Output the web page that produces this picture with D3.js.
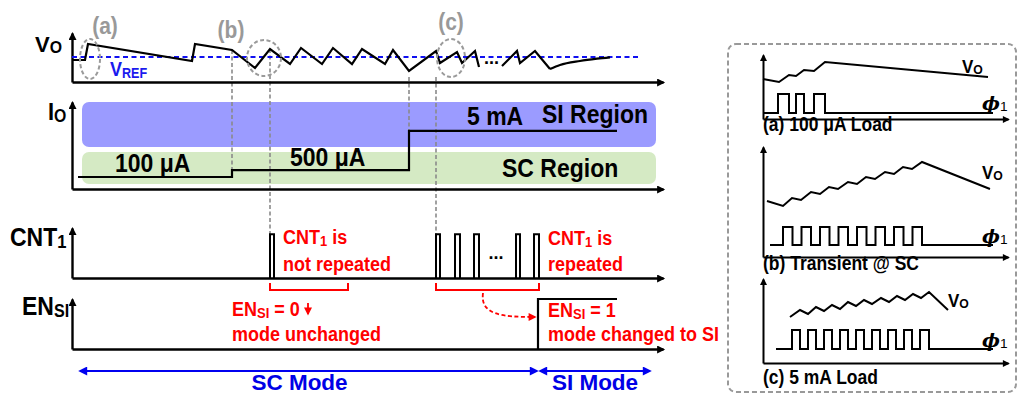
<!DOCTYPE html>
<html>
<head>
<meta charset="utf-8">
<script src="https://cdn.jsdelivr.net/npm/d3@7"></script>
<style>
  body { margin: 0; background: #fff; }
  svg { display: block; }
  text { font-family: "Liberation Sans", Arial, sans-serif; font-weight: bold; }
</style>
</head>
<body>
<svg id="chart" width="1019" height="396"></svg>
<script>
// ---------------- Main timing diagram (time in arbitrary units) ----------------
// Output voltage, relative to VREF
const voSC      = [[0.2,-3],[2.6,-3],[3.2,13],[24,-4],[24.6,13],[32,7],[36.6,-11],[39.6,8],[43.6,-7],[45.8,9],
                   [50,-7],[52.2,9],[56,-7],[58,8],[62.6,-7],[64.2,7],[67.4,-14],[72.8,6],[73.6,-6],[77,5],
                   [78,-6],[80.6,6],[81.4,-10]];
const voSI      = [[86,-9],[89,6],[89.6,-6],[92.6,6],[95.6,-12]];
const voSettle  = [[95.6,-12],[97.6,-8],[101.6,-4],[105,-1.7],[107.6,-0.3]];
const vrefSpan  = [0, 113.6];

// Load current: step times and normalised levels
const ioTime    = [1.2, 32, 67.4, 109];
const ioLevel   = [0.138, 0.218, 0.667, 0.667];
const ioLabels  = ["100 μA", "500 μA", "5 mA"];

// Operating-region bands (normalised current)
const regionNames = ["SI Region", "SC Region"];
const regionLow   = [0.483, 0.057];
const regionHigh  = [1.0, 0.425];
const regionSpan  = [2, 116.8];

// CNT1 pulses
const cntStart  = [39.6, 72.8, 76.6, 80.4, 88.8, 92.4];
const cntEnd    = [40.4, 73.6, 77.6, 81.4, 89.6, 93.4];

// EN_SI signal
const enTime    = [93.2, 109];
const enLevel   = [1, 1];

// Modes along the time axis
const modeNames = ["SC Mode", "SI Mode"];
const modeStart = [1.6, 93.6];
const modeEnd   = [93.0, 115.6];

// Zoom-in markers on VO
const zoomNames = ["(a)", "(b)", "(c)"];
const zoomTime  = [3.6, 38.4, 75.8];
const zoomValue = [-2, -1, -1];

// Vertical guides: time, VO level where they begin
const guideTime  = [32, 39.6, 67.4, 72.8];
const guideStart = [7, 8, -20, -20];

// CNT1 bracket spans
const bracketStart = [39.6, 72.8];
const bracketEnd   = [55.2, 93.4];

// ---------------- Detail panels (time in arbitrary units) ----------------
const aVo       = [[0,40],[3.2,37],[5.2,44],[6.6,43],[8.2,49],[10.2,48],[12.4,57],[45,42]];
const aPhiRise  = [3, 6.6, 10.2];
const aPhiFall  = [5.2, 8.2, 12.4];
const aPhiSpan  = [0, 46];

const bVo       = [[0.8,56],[4,51],[5.8,59],[7.6,57],[9.6,65],[11.4,63],[13.2,70],[15,68],[17,75],[18.8,73],
                   [20.6,80],[22.4,78],[24.4,85],[26.2,83],[28,90],[29.8,88],[31.8,95],[45.4,68]];
const bPhiRise  = [4, 7.7, 11.4, 15.1, 18.8, 22.5, 26.2, 29.9];
const bPhiFall  = [5.9, 9.6, 13.3, 17, 20.7, 24.4, 28.1, 31.8];
const bPhiSpan  = [1.4, 46];

const cVo       = [[5.4,46],[7.4,53],[9,49],[10.6,56],[12.2,52],[13.8,58],[15.4,54],[17,61],[18.6,57],[20.2,63],
                   [21.8,59],[23.6,65],[25.2,61],[26.8,67],[28.4,63],[30,69],[31.6,65],[33.2,71],[37,53]];
const cPhiRise  = [5.8, 9, 12.2, 15.4, 18.6, 21.8, 25, 28.2, 31.4];
const cPhiFall  = [7.4, 10.6, 13.8, 17, 20.2, 23.4, 26.6, 29.8, 33.2];
const cPhiSpan  = [2.6, 46];

// ---------------- Drawing ----------------
const svg  = d3.select("#chart");
const defs = svg.append("defs");
const TEXT_STRETCH = 1.12;   // lettering is a little taller than plain Arial

function addMarker(id, color, w, h) {
  defs.append("marker")
    .attr("id", id).attr("viewBox", "0 0 10 10")
    .attr("refX", 8).attr("refY", 5)
    .attr("markerWidth", w).attr("markerHeight", h)
    .attr("markerUnits", "userSpaceOnUse")
    .attr("orient", "auto-start-reverse")
    .append("path").attr("d", "M0,0L10,5L0,10z").attr("fill", color);
}
addMarker("axArrow", "#000", 10, 8);
addMarker("axArrowSmall", "#000", 9, 7);
addMarker("blueArrow", "#0000f0", 11, 9);
addMarker("redArrow", "#f00", 9, 8);

// Text with optional subscript parts (given as one-element arrays)
function rich(g, x, y, parts, size, opts = {}) {
  const k = opts.stretch !== undefined ? opts.stretch : TEXT_STRETCH;
  const t = g.append("text")
    .attr("transform", `translate(${x},${y}) scale(1,${k})`)
    .attr("font-size", size)
    .attr("fill", opts.fill || "#000")
    .attr("text-anchor", opts.anchor || "start");
  if (opts.family) t.style("font-family", opts.family);
  if (opts.style) t.style("font-style", opts.style);
  let shift = 0;
  parts.forEach(p => {
    const isSub = Array.isArray(p);
    const target = isSub ? (opts.subDy !== undefined ? opts.subDy : size * 0.14) : 0;
    const ts = t.append("tspan").text(isSub ? p[0] : p).attr("dy", target - shift);
    if (isSub) {
      ts.attr("font-size", size * (opts.subScale || 0.72));
      if (opts.subStyle) ts.style("font-style", opts.subStyle).style("font-weight", "normal")
                           .style("font-family", "'Liberation Sans', Arial, sans-serif");
    }
    shift = target;
  });
  return t;
}

// Axes drawn from d3 axes with no ticks; arrowheads on the domain paths
function drawAxes(g, xs, ys, sw, markerId) {
  const gx = g.append("g")
    .attr("transform", `translate(0,${ys.range()[0]})`)
    .call(d3.axisBottom(xs).tickValues([]).tickSizeOuter(0));
  gx.select(".domain").attr("stroke", "#000").attr("stroke-width", sw).attr("marker-end", `url(#${markerId})`);
  const gy = g.append("g")
    .attr("transform", `translate(${xs.range()[0]},0)`)
    .call(d3.axisLeft(ys).tickValues([]).tickSizeOuter(0));
  gy.select(".domain").attr("stroke", "#000").attr("stroke-width", sw).attr("marker-end", `url(#${markerId})`);
}

// Shared time scale for the main diagram
const x = d3.scaleLinear().domain([0, 118.2]).range([72, 663]);
const yVo  = d3.scaleLinear().domain([-25, 24]).range([82, 33]);
const yIo  = d3.scaleLinear().domain([0, 1]).range([189, 102]);
const yCnt = d3.scaleLinear().domain([0, 1.14]).range([278, 228]);
const yEn  = d3.scaleLinear().domain([0, 1]).range([349, 299]);

const main = svg.append("g");
const WAVE = 2.2, AXW = 2.4;

// --- I_O region bands (behind everything)
regionNames.forEach((name, i) => {
  main.append("rect")
    .attr("x", x(regionSpan[0])).attr("width", x(regionSpan[1]) - x(regionSpan[0]))
    .attr("y", yIo(regionHigh[i])).attr("height", yIo(regionLow[i]) - yIo(regionHigh[i]))
    .attr("rx", 7)
    .attr("fill", i === 0 ? "#9b9bff" : "#d5eac4");
});

// --- Gray guides
const guideEnds = [yIo(ioLevel[1]), yCnt(1), yIo(ioLevel[2]), yCnt(1)];
guideTime.forEach((t, i) => {
  main.append("line")
    .attr("x1", x(t)).attr("x2", x(t))
    .attr("y1", yVo(guideStart[i])).attr("y2", guideEnds[i])
    .attr("stroke", "#8a8a8a").attr("stroke-width", 1.6).attr("stroke-dasharray", "4,2.5");
});

// --- VO panel
drawAxes(main, x, yVo, AXW, "axArrow");
main.append("line")
  .attr("x1", x(vrefSpan[0])).attr("x2", x(vrefSpan[1]))
  .attr("y1", yVo(0)).attr("y2", yVo(0))
  .attr("stroke", "#1010f0").attr("stroke-width", 2).attr("stroke-dasharray", "5,3.5");

const lineVo = d3.line().x(d => x(d[0])).y(d => yVo(d[1]));
[voSC, voSI].forEach(s => main.append("path").attr("d", lineVo(s))
  .attr("fill", "none").attr("stroke", "#000").attr("stroke-width", WAVE).attr("stroke-linejoin", "miter"));
main.append("path").attr("d", lineVo.curve(d3.curveMonotoneX)(voSettle))
  .attr("fill", "none").attr("stroke", "#000").attr("stroke-width", WAVE);
lineVo.curve(d3.curveLinear);

// ellipse markers
const zoomR = [[10, 20], [17, 18], [14, 19]];
zoomNames.forEach((name, i) => {
  main.append("ellipse")
    .attr("cx", x(zoomTime[i])).attr("cy", yVo(zoomValue[i]))
    .attr("rx", zoomR[i][0]).attr("ry", zoomR[i][1])
    .attr("fill", "none").attr("stroke", "#9a9a9a").attr("stroke-width", 2).attr("stroke-dasharray", "4,2.5");
});
const zoomLabelPos = [[105, 34], [231, 38], [451, 30]];
zoomNames.forEach((name, i) => {
  rich(main, zoomLabelPos[i][0], zoomLabelPos[i][1], [name], 21, { fill: "#999", anchor: "middle" });
});

rich(main, 35, 52, ["V", ["O"]], 22, { subDy: 1, stretch: 1 });
rich(main, 110, 76, ["V", ["REF"]], 18, { fill: "#1a1aee", subDy: 2, subScale: 0.7 });
rich(main, 484, 64, ["..."], 18, { stretch: 1 });

// --- I_O panel
drawAxes(main, x, yIo, AXW, "axArrow");
const lineIo = d3.line().x(d => x(d[0])).y(d => yIo(d[1])).curve(d3.curveStepAfter);
main.append("path").attr("d", lineIo(ioTime.map((t, i) => [t, ioLevel[i]])))
  .attr("fill", "none").attr("stroke", "#000").attr("stroke-width", WAVE);
rich(main, 48, 120, ["I", ["O"]], 22, { subDy: 2 });
const ioLabelPos = [[115, 172], [290, 166], [467, 125]];
ioLabels.forEach((s, i) => rich(main, ioLabelPos[i][0], ioLabelPos[i][1], [s], 23));
const regionLabelPos = [[542, 123], [502, 177]];
regionNames.forEach((s, i) => rich(main, regionLabelPos[i][0], regionLabelPos[i][1], [s], 23));

// --- CNT1 panel
drawAxes(main, x, yCnt, AXW, "axArrow");
const lineCnt = d3.line().x(d => x(d[0])).y(d => yCnt(d[1]));
cntStart.forEach((t0, i) => {
  const t1 = cntEnd[i];
  main.append("path").attr("d", lineCnt([[t0, 0], [t0, 1], [t1, 1], [t1, 0]]))
    .attr("fill", "none").attr("stroke", "#000").attr("stroke-width", 2);
});
rich(main, 496, 259, ["..."], 18, { anchor: "middle", stretch: 1 });
rich(main, 10, 246, ["CNT", ["1"]], 23, { subDy: 2 });

// brackets under CNT1
bracketStart.forEach((t0, i) => {
  const yb = yCnt(0) + 12, yt = yCnt(0) + 5;
  main.append("path")
    .attr("d", `M${x(t0)},${yt}V${yb}H${x(bracketEnd[i])}V${yt}`)
    .attr("fill", "none").attr("stroke", "#f00").attr("stroke-width", 2);
});
rich(main, 283, 244, ["CNT", ["1"], " is"], 18, { fill: "#f00", subDy: 2 });
rich(main, 283, 271, ["not repeated"], 18, { fill: "#f00" });
rich(main, 548, 245, ["CNT", ["1"], " is"], 18, { fill: "#f00", subDy: 2 });
rich(main, 548, 271, ["repeated"], 18, { fill: "#f00" });

// dashed curved arrow from the repeated pulses to EN_SI
main.append("path")
  .attr("d", `M${x(82.2)},${yCnt(0) + 15} C${x(81.6)},${yEn(1) + 16} ${x(86)},${yEn(1) + 18} ${x(92.6)},${yEn(1) + 18}`)
  .attr("fill", "none").attr("stroke", "#f00").attr("stroke-width", 1.8)
  .attr("stroke-dasharray", "4,2.5").attr("marker-end", "url(#redArrow)");

// --- EN_SI panel
drawAxes(main, x, yEn, AXW, "axArrow");
const lineEn = d3.line().x(d => x(d[0])).y(d => yEn(d[1]));
main.append("path").attr("d", lineEn([[enTime[0], 0], [enTime[0], enLevel[0]], [enTime[1], enLevel[1]]]))
  .attr("fill", "none").attr("stroke", "#000").attr("stroke-width", WAVE);
rich(main, 22, 315, ["EN", ["SI"]], 23, { subDy: 2, subScale: 0.7 });
rich(main, 232, 316, ["EN", ["SI"], " = 0"], 18, { fill: "#f00", subDy: 2 });
main.append("line").attr("x1", 308).attr("x2", 308).attr("y1", 303).attr("y2", 314)
  .attr("stroke", "#f00").attr("stroke-width", 1.8).attr("marker-end", "url(#redArrow)");
rich(main, 232, 341, ["mode unchanged"], 18, { fill: "#f00" });
rich(main, 548, 317, ["EN", ["SI"], " = 1"], 18, { fill: "#f00", subDy: 2 });
rich(main, 548, 341, ["mode changed to SI"], 18, { fill: "#f00" });

// --- Mode arrows
const yMode = 371;
modeNames.forEach((name, i) => {
  main.append("line")
    .attr("x1", x(modeStart[i])).attr("x2", x(modeEnd[i]))
    .attr("y1", yMode).attr("y2", yMode)
    .attr("stroke", "#0000f0").attr("stroke-width", 2)
    .attr("marker-start", "url(#blueArrow)").attr("marker-end", "url(#blueArrow)");
  rich(main, (x(modeStart[i]) + x(modeEnd[i])) / 2 + (i === 0 ? -9 : 0), 390, [name], 22.5,
       { fill: "#0000e6", anchor: "middle", stretch: 1 });
});

// ---------------- Detail panels ----------------
const side = svg.append("g");
side.append("rect")
  .attr("x", 728).attr("y", 44).attr("width", 288).attr("height", 348).attr("rx", 8)
  .attr("fill", "none").attr("stroke", "#999").attr("stroke-width", 2).attr("stroke-dasharray", "5,3");

const xs = d3.scaleLinear().domain([0, 49]).range([763, 1008]);

function detailPanel(axisY, height, vo, phiRise, phiFall, phiSpan, phiLow, phiHigh, title, titleY, voPos, phiPos) {
  const ys = d3.scaleLinear().domain([0, height]).range([axisY, axisY - height]);
  drawAxes(side, xs, ys, 2, "axArrowSmall");
  const ln = d3.line().x(d => xs(d[0])).y(d => ys(d[1]));
  side.append("path").attr("d", ln(vo)).attr("fill", "none").attr("stroke", "#000").attr("stroke-width", 2);
  const phi = [[phiSpan[0], phiLow]];
  phiRise.forEach((r, i) => {
    phi.push([r, phiLow], [r, phiHigh], [phiFall[i], phiHigh], [phiFall[i], phiLow]);
  });
  phi.push([phiSpan[1], phiLow]);
  side.append("path").attr("d", ln(phi)).attr("fill", "none").attr("stroke", "#000").attr("stroke-width", 2);
  rich(side, voPos[0], voPos[1], ["V", ["O"]], 17, { subDy: 1 });
  rich(side, phiPos[0], phiPos[1], ["ϕ", ["1"]], 19,
       { family: "'DejaVu Serif', 'Liberation Serif', serif", style: "italic", subStyle: "normal", subDy: 1, subScale: 0.72, stretch: 1 });
  rich(side, 763, titleY, [title], 17.5);
}

detailPanel(119, 64, aVo, aPhiRise, aPhiFall, aPhiSpan, 6, 25, "(a) 100 μA Load", 131, [962, 73], [982, 110]);
detailPanel(257, 110, bVo, bPhiRise, bPhiFall, bPhiSpan, 12, 30, "(b) Transient @ SC", 270, [982, 179], [982, 243]);
detailPanel(363, 84, cVo, cPhiRise, cPhiFall, cPhiSpan, 14, 33, "(c) 5 mA Load", 384, [948, 307], [982, 347]);
</script>
</body>
</html>
